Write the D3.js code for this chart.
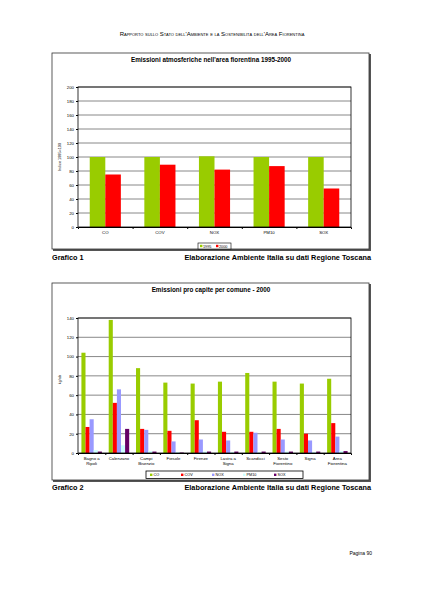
<!DOCTYPE html>
<html>
<head>
<meta charset="utf-8">
<script src="https://cdn.jsdelivr.net/npm/d3@7"></script>
<style>
  body { margin: 0; background: #fff; }
  svg { font-family: "Liberation Sans", Arial, sans-serif; display: block; }
  .tick text { font-size: 4.3px; fill: #000; }
  .tick line { stroke: #000; }
</style>
</head>
<body>
<svg id="page" width="424" height="599"></svg>
<script>
// Grafico 1 data
const pollutants = ["CO", "COV", "NOX", "PM10", "SOX"];
const index1995 = [100, 100, 101, 100, 100];
const index2000 = [75, 89, 82, 87, 55];
const years = ["1995", "2000"];
const yTicks1 = [0, 20, 40, 60, 80, 100, 120, 140, 160, 180, 200];

// Grafico 2 data (kg/ab)
const comuni = [["Bagno a", "Ripoli"], ["Calenzano"], ["Campi", "Bisenzio"], ["Fiesole"], ["Firenze"],
  ["Lastra a", "Signa"], ["Scandicci"], ["Sesto", "Fiorentino"], ["Signa"], ["Area", "Fiorentina"]];
const gasNames = ["CO", "COV", "NOX", "PM10", "SOX"];
const coVals = [104, 138, 88, 73, 72, 74, 83, 74, 72, 77];
const covVals = [27, 52, 25, 23, 34, 22, 22, 25, 20, 31];
const noxVals = [35, 66, 24, 12, 14, 13, 21, 14, 13, 17];
const pm10Vals = [3, 8, 2, 1, 1.5, 1, 1, 1.5, 1, 2];
const soxVals = [1.5, 25, 1.5, 0.5, 1.5, 1.5, 1.5, 1.5, 1.5, 2];
const yTicks2 = [0, 20, 40, 60, 80, 100, 120, 140];

const colors = ["#99cc00", "#ff0000", "#9999ff", "#ccffff", "#660066"];

const svg = d3.select("#page");

// header
svg.append("text")
  .attr("x", 212).attr("y", 36)
  .attr("text-anchor", "middle")
  .style("font-size", "6px")
  .style("font-variant", "small-caps")
  .text("Rapporto sullo Stato dell'Ambiente e la Sostenibilità dell'Area Fiorentina");

function chartFrame(top, bottom, title) {
  svg.append("rect")
    .attr("x", 53).attr("y", top + 1)
    .attr("width", 318).attr("height", bottom - top)
    .attr("fill", "#555");
  svg.append("rect")
    .attr("x", 52).attr("y", top)
    .attr("width", 317).attr("height", bottom - top - 1)
    .attr("fill", "#fff").attr("stroke", "#333").attr("stroke-width", 0.8);
  svg.append("text")
    .attr("x", 211).attr("y", top + 9)
    .attr("text-anchor", "middle")
    .style("font-size", "6.3px").style("font-weight", "bold")
    .text(title);
}

function drawPlot(g, x, y, ticks, w, h) {
  // gridlines
  g.selectAll(".grid").data(ticks.slice(1)).enter().append("line")
    .attr("x1", 0).attr("x2", w)
    .attr("y1", d => y(d)).attr("y2", d => y(d))
    .attr("stroke", "#7a7a7a").attr("stroke-width", 0.9);

  let yAxis = axisL(y, ticks);
  g.append("g").call(yAxis).call(s => s.select(".domain").remove());
}

function axisL(y, ticks) {
  return d3.axisLeft(y).tickValues(ticks).tickSize(2).tickPadding(2);
}

// ---------- Grafico 1 ----------
chartFrame(53, 250, "Emissioni atmosferiche nell'area fiorentina 1995-2000");
{
  let left = 78, top = 87, w = 273, h = 140;
  let g = svg.append("g").attr("transform", "translate(" + left + "," + top + ")");
  let x = d3.scaleBand().domain(pollutants).range([0, w]).paddingInner(0.43).paddingOuter(0.215);
  let xs = d3.scaleBand().domain(years).range([0, x.bandwidth()]);
  let y = d3.scaleLinear().domain([0, 200]).range([h, 0]);

  drawPlot(g, x, y, yTicks1, w, h);

  let series = [index1995, index2000];
  series.forEach((vals, si) => {
    g.selectAll(".b" + si).data(vals).enter().append("rect")
      .attr("x", (d, i) => x(pollutants[i]) + xs(years[si]))
      .attr("y", d => y(d))
      .attr("width", xs.bandwidth())
      .attr("height", d => h - y(d))
      .attr("fill", colors[si]);
  });

  g.append("rect").attr("width", w).attr("height", h)
    .attr("fill", "none").attr("stroke", "#000").attr("stroke-width", 0.8);

  let xAxis = d3.axisBottom(d3.scaleLinear().domain([0, 5]).range([0, w]))
    .tickValues([1, 2, 3, 4]).tickSize(2).tickFormat("");
  g.append("g").attr("transform", "translate(0," + h + ")").call(xAxis)
    .call(s => s.select(".domain").attr("stroke", "#000"));
  g.selectAll(".xl").data(pollutants).enter().append("text")
    .attr("x", d => x(d) + x.bandwidth() / 2).attr("y", h + 7)
    .attr("text-anchor", "middle").style("font-size", "4.3px")
    .text(d => d);

  svg.append("text")
    .attr("transform", "translate(61," + (top + h / 2) + ") rotate(-90)")
    .attr("text-anchor", "middle").style("font-size", "3.8px")
    .text("Indice 1995=100");

  // legend
  let lg = svg.append("g").attr("transform", "translate(198,243)");
  lg.append("rect").attr("width", 33).attr("height", 6)
    .attr("fill", "#fff").attr("stroke", "#000").attr("stroke-width", 0.6);
  years.forEach((yr, i) => {
    lg.append("rect").attr("x", 2 + i * 16).attr("y", 1.8).attr("width", 2.4).attr("height", 2.4).attr("fill", colors[i]);
    lg.append("text").attr("x", 5 + i * 16).attr("y", 4.5).style("font-size", "3.8px").text(yr);
  });
}

svg.append("text").attr("x", 52).attr("y", 260)
  .style("font-size", "7.3px").style("font-weight", "bold").text("Grafico 1");
svg.append("text").attr("x", 371).attr("y", 260).attr("text-anchor", "end")
  .style("font-size", "7.3px").style("font-weight", "bold")
  .text("Elaborazione Ambiente Italia su dati Regione Toscana");

// ---------- Grafico 2 ----------
chartFrame(283, 481, "Emissioni pro capite per comune - 2000");
{
  let left = 78, top = 318, w = 273, h = 135;
  let g = svg.append("g").attr("transform", "translate(" + left + "," + top + ")");
  let names = comuni.map(c => c.join(" "));
  let x = d3.scaleBand().domain(names).range([0, w]).paddingInner(0.25).paddingOuter(0.125);
  let xs = d3.scaleBand().domain(gasNames).range([0, x.bandwidth()]);
  let y = d3.scaleLinear().domain([0, 140]).range([h, 0]);

  drawPlot(g, x, y, yTicks2, w, h);

  let series = [coVals, covVals, noxVals, pm10Vals, soxVals];
  series.forEach((vals, si) => {
    g.selectAll(".c" + si).data(vals).enter().append("rect")
      .attr("x", (d, i) => x(names[i]) + xs(gasNames[si]))
      .attr("y", d => y(d))
      .attr("width", xs.bandwidth())
      .attr("height", d => h - y(d))
      .attr("fill", colors[si]);
  });

  g.append("rect").attr("width", w).attr("height", h)
    .attr("fill", "none").attr("stroke", "#000").attr("stroke-width", 0.8);

  let xAxis = d3.axisBottom(d3.scaleLinear().domain([0, 10]).range([0, w]))
    .tickValues(d3.range(1, 10)).tickSize(2).tickFormat("");
  g.append("g").attr("transform", "translate(0," + h + ")").call(xAxis)
    .call(s => s.select(".domain").attr("stroke", "#000"));
  let xl = g.selectAll(".xl").data(comuni).enter().append("text")
    .attr("x", (d, i) => x(names[i]) + x.bandwidth() / 2).attr("y", h + 6.5)
    .attr("text-anchor", "middle").style("font-size", "4.3px");
  xl.selectAll("tspan").data(d => d).enter().append("tspan")
    .attr("x", function () { return this.parentNode.getAttribute("x"); })
    .attr("dy", (d, i) => i === 0 ? 0 : 5.8)
    .text(d => d);

  svg.append("text")
    .attr("transform", "translate(61," + (top + h / 2 - 6) + ") rotate(-90)")
    .attr("text-anchor", "middle").style("font-size", "3.8px")
    .text("kg/ab");

  // legend
  let lg = svg.append("g").attr("transform", "translate(146,471)");
  lg.append("rect").attr("width", 157).attr("height", 7.5)
    .attr("fill", "#fff").attr("stroke", "#000").attr("stroke-width", 0.8);
  gasNames.forEach((n, i) => {
    lg.append("rect").attr("x", 4 + i * 31).attr("y", 2.6).attr("width", 2.4).attr("height", 2.4).attr("fill", colors[i]);
    lg.append("text").attr("x", 7.5 + i * 31).attr("y", 5.4).style("font-size", "3.8px").text(n);
  });
}

svg.append("text").attr("x", 52).attr("y", 490)
  .style("font-size", "7.3px").style("font-weight", "bold").text("Grafico 2");
svg.append("text").attr("x", 371).attr("y", 490).attr("text-anchor", "end")
  .style("font-size", "7.3px").style("font-weight", "bold")
  .text("Elaborazione Ambiente Italia su dati Regione Toscana");

svg.append("text").attr("x", 372).attr("y", 555).attr("text-anchor", "end")
  .style("font-size", "5px").text("Pagina 90");
</script>
</body>
</html>
